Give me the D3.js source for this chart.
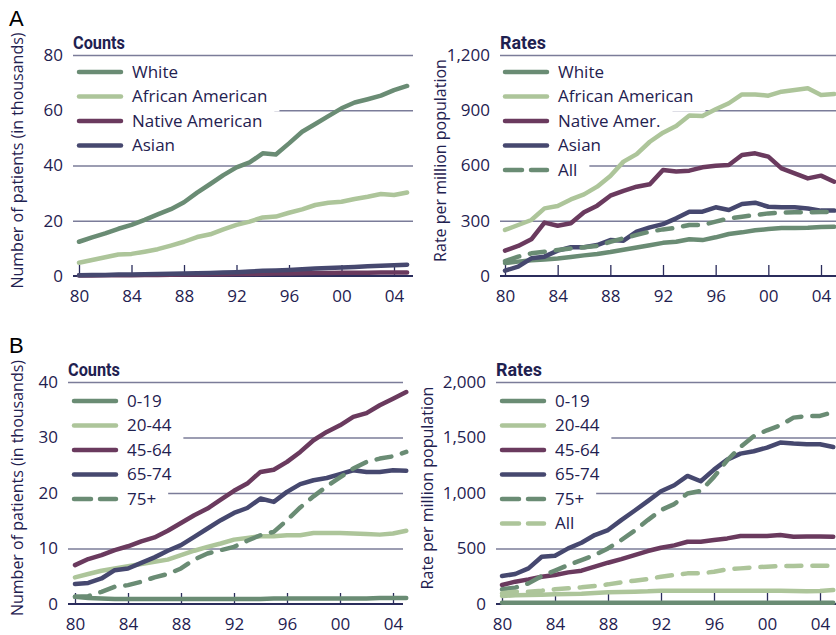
<!DOCTYPE html>
<html>
<head>
<meta charset="utf-8">
<script src="https://cdn.jsdelivr.net/npm/d3@7/dist/d3.min.js"></script>
<style>
  html, body { margin: 0; padding: 0; background: #fff; }
  svg { display: block; font-family: "Open Sans", "Noto Sans", sans-serif; }
</style>
</head>
<body>
<script>
// ---- data ---------------------------------------------------------------
const years = d3.range(1980, 2006);
const yearTicks = [1980, 1984, 1988, 1992, 1996, 2000, 2004];

// A: counts by race (thousands of patients)
const countWhite    = [12.4, 14.0, 15.4, 17.1, 18.5, 20.3, 22.3, 24.2, 26.7, 30.2, 33.3, 36.5, 39.3, 41.1, 44.4, 44.0, 48.0, 52.2, 55.0, 57.9, 60.7, 62.8, 64.0, 65.3, 67.3, 68.8];
const countAfrAm    = [4.8, 5.8, 6.8, 7.8, 8.0, 8.8, 9.7, 11.0, 12.4, 14.1, 15.1, 16.9, 18.5, 19.7, 21.2, 21.5, 22.9, 24.1, 25.7, 26.5, 26.9, 27.9, 28.7, 29.7, 29.3, 30.2];
const countNative   = [0.2, 0.2, 0.25, 0.3, 0.3, 0.35, 0.4, 0.45, 0.5, 0.55, 0.6, 0.65, 0.7, 0.75, 0.8, 0.9, 0.95, 1.0, 1.05, 1.1, 1.15, 1.2, 1.2, 1.25, 1.25, 1.3];
const countAsian    = [0.3, 0.35, 0.4, 0.5, 0.5, 0.6, 0.7, 0.8, 0.9, 1.0, 1.1, 1.3, 1.4, 1.6, 1.9, 2.0, 2.2, 2.4, 2.7, 2.9, 3.1, 3.3, 3.5, 3.7, 3.9, 4.1];

// A: rates by race (per million population)
const rateWhite     = [70, 78, 85, 90, 95, 103, 112, 120, 130, 143, 155, 167, 180, 186, 200, 195, 210, 228, 237, 248, 255, 260, 261, 262, 266, 268];
const rateAfrAm     = [250, 277, 304, 367, 380, 416, 443, 485, 543, 621, 662, 729, 778, 814, 871, 869, 905, 938, 986, 986, 979, 1001, 1010, 1019, 983, 988];
const rateNative    = [138, 163, 199, 290, 273, 286, 346, 382, 436, 462, 485, 498, 576, 567, 572, 590, 599, 603, 657, 666, 648, 584, 557, 530, 545, 512];
const rateAsian     = [29, 51, 96, 105, 138, 156, 156, 168, 195, 192, 241, 264, 282, 313, 349, 349, 373, 358, 391, 398, 376, 373, 373, 367, 355, 355];
const rateAllRace   = [81, 105, 123, 132, 141, 150, 156, 163, 186, 205, 223, 241, 253, 262, 277, 277, 295, 313, 322, 331, 340, 344, 346, 346, 348, 348];

// B: counts by age group (thousands of patients)
const countAge0     = [1.3, 1.1, 1.0, 0.9, 0.9, 0.9, 0.9, 0.9, 0.9, 0.9, 0.9, 0.9, 0.9, 0.9, 0.9, 1.0, 1.0, 1.0, 1.0, 1.0, 1.0, 1.0, 1.0, 1.1, 1.1, 1.1];
const countAge20    = [4.8, 5.4, 6.0, 6.4, 6.8, 7.2, 7.6, 8.0, 8.8, 9.6, 10.3, 10.9, 11.6, 11.9, 12.2, 12.2, 12.4, 12.4, 12.8, 12.8, 12.8, 12.7, 12.6, 12.5, 12.7, 13.2];
const countAge45    = [7.0, 8.1, 8.8, 9.7, 10.4, 11.3, 12.0, 13.2, 14.6, 16.0, 17.2, 18.8, 20.4, 21.7, 23.8, 24.2, 25.6, 27.4, 29.5, 31.0, 32.2, 33.7, 34.4, 35.8, 37.0, 38.2];
const countAge65    = [3.6, 3.8, 4.6, 6.1, 6.4, 7.4, 8.4, 9.6, 10.6, 12.1, 13.6, 15.1, 16.4, 17.3, 19.0, 18.4, 20.2, 21.6, 22.3, 22.7, 23.4, 24.1, 23.8, 23.8, 24.1, 24.0];
const countAge75    = [1.3, 1.4, 2.2, 3.1, 3.4, 4.0, 4.8, 5.4, 6.4, 8.0, 9.1, 9.7, 10.3, 11.4, 12.4, 13.0, 15.1, 17.4, 19.4, 21.2, 22.8, 24.4, 25.6, 26.2, 26.6, 27.4];

// B: rates by age group (per million population)
const rateAge0      = [12, 12, 12, 12, 12, 12, 12, 12, 12, 12, 12, 12, 12, 12, 12, 12, 12, 12, 12, 12, 12, 12, 12, 12, 12, 12];
const rateAge20     = [72, 78, 81, 84, 87, 90, 93, 99, 105, 108, 111, 114, 120, 120, 120, 120, 120, 120, 120, 120, 120, 120, 118, 115, 118, 126];
const rateAge45     = [171, 201, 222, 246, 261, 285, 300, 336, 372, 405, 441, 477, 507, 528, 561, 561, 576, 591, 612, 612, 612, 621, 606, 609, 609, 606];
const rateAge65     = [252, 270, 321, 426, 435, 501, 552, 621, 666, 756, 840, 927, 1016, 1070, 1154, 1106, 1211, 1301, 1355, 1376, 1409, 1454, 1445, 1439, 1439, 1415];
const rateAge75     = [132, 147, 186, 252, 300, 351, 396, 441, 501, 576, 660, 756, 846, 900, 996, 1019, 1145, 1295, 1415, 1511, 1565, 1610, 1679, 1694, 1694, 1730];
const rateAllAge    = [96, 111, 111, 120, 132, 141, 150, 162, 177, 195, 210, 225, 246, 261, 276, 276, 291, 312, 321, 330, 336, 342, 342, 345, 345, 345];

const raceNames     = ["White", "African American", "Native American", "Asian"];
const raceNamesRate = ["White", "African American", "Native Amer.", "Asian", "All"];
const ageNames      = ["0-19", "20-44", "45-64", "65-74", "75+"];
const ageNamesRate  = ["0-19", "20-44", "45-64", "65-74", "75+", "All"];

const yTicksCountA = [0, 20, 40, 60, 80];
const yTicksRateA  = [0, 300, 600, 900, 1200];
const yTicksCountB = [0, 10, 20, 30, 40];
const yTicksRateB  = [0, 500, 1000, 1500, 2000];

// ---- styling -------------------------------------------------------------
const C = { green: "#6a8c74", light: "#adc59a", maroon: "#6a3a5e", navy: "#46486f" };
const INK = "#1f2150";
const GRID = "#7b7c99";
const DASH = "15,11";

const W = 836, H = 635;
const svg = d3.select("body").append("svg").attr("width", W).attr("height", H);

const panels = [
  { letter: "A", letterY: 26, title: "Counts", yLabel: "Number of patients (in thousands)",
    yTicks: yTicksCountA, gridL: 73, gridR: 413, x80: 79, x04: 394, y0: 276, yTop: 55,
    yLabelX: 17, legendX: 77, legendY: 72,
    series: [
      { name: raceNames[0], values: countWhite,  color: C.green },
      { name: raceNames[1], values: countAfrAm,  color: C.light },
      { name: raceNames[2], values: countNative, color: C.maroon },
      { name: raceNames[3], values: countAsian,  color: C.navy }
    ] },
  { letter: null, title: "Rates", yLabel: "Rate per million population",
    yTicks: yTicksRateA, gridL: 500, gridR: 836, x80: 505, x04: 821, y0: 276, yTop: 55,
    yLabelX: 440, legendX: 503, legendY: 72,
    series: [
      { name: raceNamesRate[0], values: rateWhite,   color: C.green },
      { name: raceNamesRate[1], values: rateAfrAm,   color: C.light },
      { name: raceNamesRate[2], values: rateNative,  color: C.maroon },
      { name: raceNamesRate[3], values: rateAsian,   color: C.navy },
      { name: raceNamesRate[4], values: rateAllRace, color: C.green, dash: true }
    ] },
  { letter: "B", letterY: 353, title: "Counts", yLabel: "Number of patients (in thousands)",
    yTicks: yTicksCountB, gridL: 68, gridR: 403, x80: 75, x04: 393, y0: 604, yTop: 382,
    yLabelX: 17, legendX: 72, legendY: 401,
    series: [
      { name: ageNames[0], values: countAge0,  color: C.green },
      { name: ageNames[1], values: countAge20, color: C.light },
      { name: ageNames[2], values: countAge45, color: C.maroon },
      { name: ageNames[3], values: countAge65, color: C.navy },
      { name: ageNames[4], values: countAge75, color: C.green, dash: true }
    ] },
  { letter: null, title: "Rates", yLabel: "Rate per million population",
    yTicks: yTicksRateB, gridL: 496, gridR: 836, x80: 502, x04: 820, y0: 604, yTop: 382,
    yLabelX: 427, legendX: 500, legendY: 401,
    series: [
      { name: ageNamesRate[0], values: rateAge0,   color: C.green },
      { name: ageNamesRate[1], values: rateAge20,  color: C.light },
      { name: ageNamesRate[2], values: rateAge45,  color: C.maroon },
      { name: ageNamesRate[3], values: rateAge65,  color: C.navy },
      { name: ageNamesRate[4], values: rateAge75,  color: C.green, dash: true },
      { name: ageNamesRate[5], values: rateAllAge, color: C.light, dash: true }
    ] }
];

const ROW = 24.5;

function drawPanel(p) {
  const g = svg.append("g");
  const x = d3.scaleLinear().domain([1980, 2004]).range([p.x80, p.x04]);
  const y = d3.scaleLinear().domain([0, d3.max(p.yTicks)]).range([p.y0, p.yTop]);

  // panel letter
  if (p.letter) {
    svg.append("text").attr("x", 9).attr("y", p.letterY)
      .attr("font-family", "'Liberation Sans', Arial, sans-serif")
      .attr("font-size", 22).attr("fill", "#000").text(p.letter);
  }

  // horizontal gridlines + value labels
  const yAxis = d3.axisLeft(y).tickValues(p.yTicks).tickFormat(d3.format(","))
    .tickSize(-(p.gridR - p.gridL)).tickPadding(10);
  const ya = g.append("g").attr("transform", `translate(${p.gridL},0)`).call(yAxis);
  ya.select(".domain").remove();
  ya.selectAll(".tick line").attr("stroke", GRID).attr("stroke-width", 1.3)
    .filter(d => d === 0).remove();
  ya.selectAll(".tick text").attr("fill", INK).attr("font-size", 17)
    .attr("font-family", "'Open Sans', sans-serif");

  // legend knockouts sit above the gridlines and below the data
  const legend = g.append("g");
  const knock = legend.append("g");
  const items = legend.append("g");

  // x axis baseline with inward ticks
  const xAxis = d3.axisBottom(x).tickValues(yearTicks)
    .tickFormat(d => String(d % 100).padStart(2, "0"))
    .tickSize(-11).tickPadding(14);
  const xa = g.append("g").attr("transform", `translate(0,${p.y0})`).call(xAxis);
  xa.select(".domain").remove();
  xa.insert("line", ":first-child").attr("x1", p.gridL).attr("x2", p.gridR)
    .attr("stroke", "#2b2d5c").attr("stroke-width", 2);
  xa.selectAll(".tick line").attr("stroke", "#2b2d5c").attr("stroke-width", 1.3);
  xa.selectAll(".tick text").attr("fill", INK).attr("font-size", 17)
    .attr("font-family", "'Open Sans', sans-serif");

  // data lines
  const line = d3.line().x((d, i) => x(years[i])).y(d => y(d));
  g.append("g").selectAll("path").data(p.series).join("path")
    .attr("d", s => line(s.values))
    .attr("fill", "none")
    .attr("stroke", s => s.color)
    .attr("stroke-width", 4.5)
    .attr("stroke-linejoin", "round")
    .attr("stroke-linecap", "round")
    .attr("stroke-dasharray", s => s.dash ? DASH : null);

  // panel title
  g.append("text").attr("x", p.gridL).attr("y", p.yTop - 6)
    .attr("font-family", "'Liberation Sans Narrow', 'Roboto', sans-serif")
    .attr("font-weight", "bold").attr("font-size", 18).attr("fill", INK)
    .attr("textLength", p.title === "Counts" ? 52 : 46)
    .attr("lengthAdjust", "spacingAndGlyphs")
    .text(p.title);

  // y axis title
  g.append("text")
    .attr("transform", `translate(${p.yLabelX},${(p.y0 + p.yTop) / 2 - 5}) rotate(-90)`)
    .attr("text-anchor", "middle").attr("dy", "0.35em")
    .attr("font-size", 16).attr("fill", INK).text(p.yLabel);

  // legend
  p.series.forEach((s, i) => {
    const ly = p.legendY + i * ROW;
    const it = items.append("g");
    it.append("line").attr("x1", p.legendX + 2).attr("x2", p.legendX + 44)
      .attr("y1", ly).attr("y2", ly)
      .attr("stroke", s.color).attr("stroke-width", 4.5).attr("stroke-linecap", "round")
      .attr("stroke-dasharray", s.dash ? "17,9" : null);
    const t = it.append("text").attr("x", p.legendX + 55).attr("y", ly).attr("dy", "0.35em")
      .attr("font-size", 17).attr("fill", INK).text(s.name);
    const w = t.node().getComputedTextLength();
    knock.append("rect").attr("x", p.legendX - 4).attr("y", ly - 10)
      .attr("width", 55 + w + 16).attr("height", 25).attr("fill", "#fff");
  });
}

panels.forEach(drawPanel);
</script>
</body>
</html>
